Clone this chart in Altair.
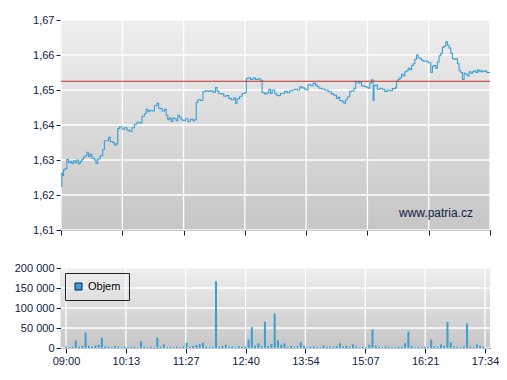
import altair as alt
import pandas as pd

# ---- data ----
tick_labels = ["09:00", "10:13", "11:27", "12:40", "13:54", "15:07", "16:21", "17:34"]
session_minutes = 514  # 09:00 -> 17:34
ref_price = 1.6525
price_ticks = [1.61, 1.62, 1.63, 1.64, 1.65, 1.66, 1.67]
vol_ticks = [0, 50000, 100000, 150000, 200000]

price_min = [0, 1, 2, 3, 5, 7, 9, 11, 13, 15, 17, 19, 21, 23, 25, 27, 29, 31, 33, 35, 37, 40, 42, 44, 47,
             50, 52, 55, 57, 59, 62, 64, 66, 68, 70, 73, 76, 79, 82, 85, 88, 91, 94, 97, 100, 102, 104,
             106, 109, 112, 115, 117, 119, 121, 124, 126, 128, 130, 132, 134, 136, 138, 140, 142, 144,
             146, 149, 152, 155, 158, 160, 162, 164, 167, 170, 173, 176, 179, 182, 185, 187, 189, 192,
             195, 198, 201, 204, 207, 209, 211, 214, 217, 220, 222, 224, 227, 230, 233, 236, 239, 241,
             244, 247, 249, 251, 253, 256, 258, 260, 263, 266, 268, 271, 274, 277, 280, 283, 286, 289,
             292, 294, 296, 299, 302, 305, 307, 309, 312, 316, 320, 324, 327, 330, 332, 334, 337, 339,
             341, 343, 346, 348, 351, 353, 356, 358, 360, 363, 366, 368, 370, 372, 374, 375, 377, 379,
             382, 385, 388, 391, 394, 397, 400, 402, 404, 406, 408, 410, 412, 414, 416, 418, 420, 422,
             424, 426, 428, 430, 432, 434, 436, 438, 440, 443, 445, 447, 449, 451, 453, 455, 457, 459,
             461, 463, 465, 467, 469, 471, 473, 475, 477, 479, 481, 483, 485, 487, 489, 491, 493, 495,
             497, 499, 501, 503, 505, 507, 510, 514]
price_val = [1.6225, 1.6262, 1.6255, 1.6272, 1.6275, 1.6301, 1.6292, 1.6296, 1.6290, 1.6298, 1.6292,
             1.6300, 1.6289, 1.6296, 1.6302, 1.6308, 1.6312, 1.6322, 1.6310, 1.6316, 1.6305, 1.6300,
             1.6290, 1.6303, 1.6312, 1.6330, 1.6355, 1.6355, 1.6365, 1.6352, 1.6350, 1.6342, 1.6346,
             1.6390, 1.6395, 1.6388, 1.6392, 1.6385, 1.6382, 1.6392, 1.6402, 1.6408, 1.6406, 1.6425,
             1.6432, 1.6445, 1.6438, 1.6442, 1.6440, 1.6455, 1.6462, 1.6448, 1.6447, 1.6440, 1.6445,
             1.6428, 1.6415, 1.6420, 1.6410, 1.6420, 1.6418, 1.6412, 1.6428, 1.6422, 1.6415, 1.6412,
             1.6418, 1.6410, 1.6416, 1.6412, 1.6415, 1.6465, 1.6472, 1.6470, 1.6495, 1.6498, 1.6496,
             1.6498, 1.6494, 1.6507, 1.6497, 1.6490, 1.6489, 1.6482, 1.6484, 1.6476, 1.6472, 1.6478,
             1.6462, 1.6475, 1.6482, 1.6490, 1.6492, 1.6532, 1.6535, 1.6530, 1.6534, 1.6530, 1.6532,
             1.6528, 1.6492, 1.6489, 1.6492, 1.6502, 1.6490, 1.6500, 1.6490, 1.6485, 1.6484, 1.6490,
             1.6490, 1.6496, 1.6492, 1.6498, 1.6500, 1.6502, 1.6500, 1.6509, 1.6506, 1.6502, 1.6500,
             1.6515, 1.6512, 1.6519, 1.6514, 1.6510, 1.6505, 1.6503, 1.6500, 1.6495, 1.6489, 1.6485,
             1.6476, 1.6480, 1.6470, 1.6466, 1.6462, 1.6472, 1.6480, 1.6495, 1.6497, 1.6505, 1.6524,
             1.6520, 1.6524, 1.6512, 1.6510, 1.6508, 1.6505, 1.6520, 1.6529, 1.6470, 1.6512, 1.6514,
             1.6502, 1.6505, 1.6502, 1.6496, 1.6500, 1.6498, 1.6504, 1.6506, 1.6525, 1.6530, 1.6535,
             1.6545, 1.6540, 1.6552, 1.6555, 1.6562, 1.6558, 1.6570, 1.6575, 1.6588, 1.6600, 1.6592,
             1.6590, 1.6585, 1.6582, 1.6583, 1.6582, 1.6578, 1.6550, 1.6568, 1.6570, 1.6562, 1.6580,
             1.6598, 1.6605, 1.6622, 1.6625, 1.6638, 1.6628, 1.6620, 1.6605, 1.6590, 1.6588, 1.6589,
             1.6575, 1.6555, 1.6550, 1.6530, 1.6548, 1.6545, 1.6540, 1.6552, 1.6548, 1.6552, 1.6555,
             1.6550, 1.6557, 1.6552, 1.6555, 1.6552, 1.6554, 1.6550, 1.6550]

vol_bin_minutes = 4
volume = [3000, 2000, 3000, 19000, 3000, 5000, 39000, 5000, 3000, 6000, 8000, 26000, 4000, 3000, 2000,
          5000, 3000, 2000, 3000, 2000, 3000, 3000, 2000, 17000, 3000, 2000, 3000, 2000, 26000, 3000,
          9000, 2000, 3000, 2000, 3000, 2000, 4000, 13000, 3000, 5000, 7000, 10000, 13000, 3000, 2000,
          3000, 167000, 3000, 5000, 8000, 3000, 4000, 2000, 5000, 3000, 4000, 21000, 52000, 6000, 12000,
          4000, 66000, 5000, 10000, 86000, 19000, 8000, 12000, 3000, 5000, 3000, 4000, 15000, 5000,
          2000, 3000, 4000, 3000, 2000, 6000, 3000, 4000, 3000, 5000, 12000, 4000, 5000, 3000, 9000,
          4000, 2000, 3000, 2000, 8000, 46000, 6000, 3000, 2000, 4000, 3000, 2000, 2000, 3000, 3000,
          12000, 41000, 5000, 2000, 3000, 2000, 3000, 2000, 21000, 4000, 3000, 9000, 5000, 65000,
          14000, 4000, 3000, 2000, 4000, 61000, 3000, 2000, 9000, 5000, 3000]

# ---- tables ----
price_df = pd.DataFrame({"t": price_min, "price": price_val})
vol_df = pd.DataFrame({"t": [i * vol_bin_minutes for i in range(len(volume))], "vol": volume,
                       "series": ["Objem"] * len(volume)})

NAVY = "#0b2045"
LINE = "#3d9fd1"
step = session_minutes / (len(tick_labels) - 1)
tick_vals = [round(i * step, 3) for i in range(len(tick_labels))]
lab_expr = "[" + ",".join(f"'{s}'" for s in tick_labels) + f"][round(datum.value/{step})]"
vgrid_df = pd.DataFrame({"t": tick_vals})
hgrid_price_df = pd.DataFrame({"price": price_ticks})
hgrid_vol_df = pd.DataFrame({"vol": vol_ticks})

W = 429
bg = alt.Gradient(gradient="linear", x1=0, x2=0, y1=0, y2=1,
                  stops=[alt.GradientStop(offset=0, color="#efefef"),
                         alt.GradientStop(offset=1, color="#c6c6c6")])

xscale = alt.Scale(domain=[0, session_minutes], nice=False, zero=False)
pscale = alt.Scale(domain=[1.61, 1.67], nice=False, zero=False)
vscale = alt.Scale(domain=[0, 200000], nice=False)
GRID = dict(color="#ffffff", strokeWidth=1.3)

X_TOP = alt.X("t:Q", scale=xscale, title=None,
              axis=alt.Axis(values=tick_vals, labels=False, grid=False))
Y_TOP = alt.Y("price:Q", scale=pscale, title=None,
              axis=alt.Axis(values=price_ticks, labelOverlap=False, grid=False,
                            labelExpr="replace(format(datum.value, '.2f'), '.', ',')", minExtent=53))
X_BOT = alt.X("t:Q", scale=xscale, title=None,
              axis=alt.Axis(values=tick_vals, labelExpr=lab_expr, grid=False, labelOverlap=False))
Y_BOT = alt.Y("vol:Q", scale=vscale, title=None,
              axis=alt.Axis(values=vol_ticks, labelOverlap=False, grid=False,
                            labelExpr="replace(format(datum.value, ',d'), ',', ' ')", minExtent=53))

# ---- top panel ----
bg_top = alt.Chart().mark_rect(fill=bg).encode(
    x=alt.value(0), x2=alt.value(W), y=alt.value(0), y2=alt.value(210))
vg_top = alt.Chart(vgrid_df).mark_rule(**GRID).encode(x=X_TOP)
hg_top = alt.Chart(hgrid_price_df).mark_rule(**GRID).encode(y=Y_TOP)
line = alt.Chart(price_df).mark_line(color=LINE, strokeWidth=1.1, interpolate="step-after").encode(
    x=X_TOP, y=Y_TOP)
rule = alt.Chart(pd.DataFrame({"price": [ref_price]})).mark_rule(color="#c0302e", strokeWidth=1).encode(
    y=Y_TOP)
wm = alt.Chart(pd.DataFrame({"s": ["www.patria.cz"]})).mark_text(
    align="right", baseline="middle", fontSize=12, color=NAVY, font="Liberation Sans").encode(
    text="s:N", x=alt.value(412), y=alt.value(193))
top = alt.layer(bg_top, vg_top, hg_top, line, rule, wm).properties(width=W, height=210)

# ---- bottom panel ----
bg_bot = alt.Chart().mark_rect(fill=bg).encode(
    x=alt.value(0), x2=alt.value(W), y=alt.value(0), y2=alt.value(80))
vg_bot = alt.Chart(vgrid_df).mark_rule(**GRID).encode(x=X_BOT)
hg_bot = alt.Chart(hgrid_vol_df).mark_rule(**GRID).encode(y=Y_BOT)
bars = alt.Chart(vol_df).mark_bar(size=2).encode(
    x=X_BOT, y=Y_BOT,
    color=alt.Color("series:N", scale=alt.Scale(range=[LINE]),
                    legend=alt.Legend(title=None, orient="none", legendX=4, legendY=5,
                                      strokeColor="#222222", padding=8, symbolType="square",
                                      symbolStrokeColor=NAVY, symbolStrokeWidth=1, symbolSize=49,
                                      symbolOpacity=1, labelFontSize=11, labelColor="#000000",
                                      labelFont="Liberation Sans", labelOffset=4)))
bot = alt.layer(bg_bot, vg_bot, hg_bot, bars).properties(width=W, height=80)

chart = alt.vconcat(top, bot, spacing=26).resolve_legend(color="independent").configure_axis(
    domainColor=NAVY, tickColor=NAVY, labelColor=NAVY, labelFont="Liberation Sans", labelFontSize=11,
    tickSize=5, labelPadding=2, domainWidth=1.2
).configure_view(stroke=None).properties(
    background="#ffffff", padding={"top": 6, "left": 0, "right": 0, "bottom": 0})

chart.save("out.html", embed_options={"renderer": "svg", "actions": False})
